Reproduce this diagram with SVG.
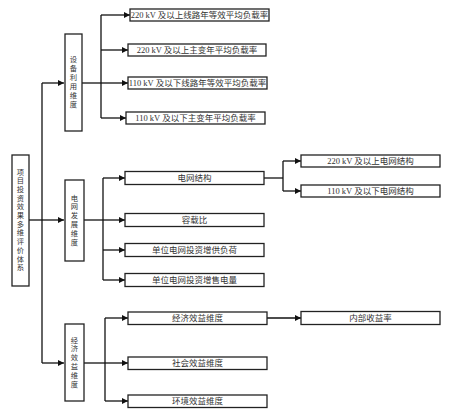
<svg xmlns="http://www.w3.org/2000/svg" width="450" height="414" viewBox="0 0 450 414">
<style>
.box{fill:#fff;stroke:#222;stroke-width:1.3}
.ln{fill:none;stroke:#111;stroke-width:1.3}
.t{font-family:"Liberation Serif","Noto Sans CJK SC",serif;font-size:8.5px;fill:#333;text-anchor:middle;dominant-baseline:central}
.v{font-size:7.3px}
</style>
<defs>
<marker id="ah" viewBox="0 0 10 10" refX="10" refY="5" markerWidth="6" markerHeight="6" markerUnits="userSpaceOnUse" orient="auto">
<path d="M0,0 L10,5 L0,10 z" fill="#111"/>
</marker>
</defs>
<rect width="450" height="414" fill="#fff"/>
<g id="connectors">
<path class="ln" d="M29,220 H42"/>
<path class="ln" d="M42,83 V363"/>
<path class="ln" d="M42,83 H64" marker-end="url(#ah)"/>
<path class="ln" d="M42,220 H64" marker-end="url(#ah)"/>
<path class="ln" d="M42,363 H64" marker-end="url(#ah)"/>
<path class="ln" d="M82,83 H101"/>
<path class="ln" d="M101,15 V118"/>
<path class="ln" d="M101,15 H130" marker-end="url(#ah)"/>
<path class="ln" d="M101,50 H128" marker-end="url(#ah)"/>
<path class="ln" d="M101,83 H128" marker-end="url(#ah)"/>
<path class="ln" d="M101,118 H126" marker-end="url(#ah)"/>
<path class="ln" d="M84,220 H103"/>
<path class="ln" d="M103,178 V280"/>
<path class="ln" d="M103,178 H125" marker-end="url(#ah)"/>
<path class="ln" d="M103,220 H125" marker-end="url(#ah)"/>
<path class="ln" d="M103,250 H125" marker-end="url(#ah)"/>
<path class="ln" d="M103,280 H125" marker-end="url(#ah)"/>
<path class="ln" d="M264,178 H283"/>
<path class="ln" d="M283,161 V191"/>
<path class="ln" d="M283,161 H301" marker-end="url(#ah)"/>
<path class="ln" d="M283,191 H301" marker-end="url(#ah)"/>
<path class="ln" d="M84,363 H105"/>
<path class="ln" d="M105,318 V401"/>
<path class="ln" d="M105,318 H128" marker-end="url(#ah)"/>
<path class="ln" d="M105,363 H128" marker-end="url(#ah)"/>
<path class="ln" d="M105,401 H128" marker-end="url(#ah)"/>
<path class="ln" d="M267,318 H301" marker-end="url(#ah)"/>
</g>
<g id="root">
<rect class="box" x="12" y="155" width="17" height="131"/>
<text class="t v" x="20.5 20.5 20.5 20.5 20.5 20.5 20.5 20.5 20.5 20.5 20.5 20.5" y="172 180.7 189.4 198.1 206.8 215.5 224.2 232.9 241.6 250.3 259 267.7">项目投资效果多维评价体系</text>
</g>
<g id="dim1">
<rect class="box" x="65" y="34" width="17" height="97"/>
<text class="t v" x="73.5 73.5 73.5 73.5 73.5 73.5" y="59 68 77 86 95 104">设备利用维度</text>
</g>
<g id="dim2">
<rect class="box" x="65" y="180" width="19" height="81"/>
<text class="t v" x="74.5 74.5 74.5 74.5 74.5 74.5" y="198 206.8 215.6 224.4 233.2 242">电网发展维度</text>
</g>
<g id="dim3">
<rect class="box" x="65" y="324" width="19" height="77"/>
<text class="t v" x="74.5 74.5 74.5 74.5 74.5 74.5" y="340 348.8 357.6 366.4 375.2 384">经济效益维度</text>
</g>
<g id="n11">
<rect class="box" x="130" y="9" width="139" height="12"/>
<text class="t" x="199.5" y="15">220 kV 及以上线路年等效平均负载率</text>
</g>
<g id="n12">
<rect class="box" x="128" y="44" width="138" height="12"/>
<text class="t" x="197" y="50">220 kV 及以上主变年平均负载率</text>
</g>
<g id="n13">
<rect class="box" x="128" y="77" width="139" height="12"/>
<text class="t" x="197.5" y="83">110 kV 及以下线路年等效平均负载率</text>
</g>
<g id="n14">
<rect class="box" x="126" y="112" width="139" height="12"/>
<text class="t" x="195.5" y="118">110 kV 及以下主变年平均负载率</text>
</g>
<g id="n21">
<rect class="box" x="125" y="171.5" width="139" height="13"/>
<text class="t" x="194.5" y="178">电网结构</text>
</g>
<g id="n22">
<rect class="box" x="125" y="213.5" width="139" height="13"/>
<text class="t" x="194.5" y="220">容载比</text>
</g>
<g id="n23">
<rect class="box" x="125" y="243.5" width="139" height="13"/>
<text class="t" x="194.5" y="250">单位电网投资增供负荷</text>
</g>
<g id="n24">
<rect class="box" x="125" y="273.5" width="139" height="13"/>
<text class="t" x="194.5" y="280">单位电网投资增售电量</text>
</g>
<g id="n211">
<rect class="box" x="301" y="155" width="139" height="12"/>
<text class="t" x="370.5" y="161">220 kV 及以上电网结构</text>
</g>
<g id="n212">
<rect class="box" x="301" y="185" width="139" height="12"/>
<text class="t" x="370.5" y="191">110 kV 及以下电网结构</text>
</g>
<g id="n31">
<rect class="box" x="128" y="312" width="139" height="12.5"/>
<text class="t" x="197.5" y="318">经济效益维度</text>
</g>
<g id="n32">
<rect class="box" x="128" y="357" width="139" height="12.5"/>
<text class="t" x="197.5" y="363">社会效益维度</text>
</g>
<g id="n33">
<rect class="box" x="128" y="395" width="139" height="12.5"/>
<text class="t" x="197.5" y="401">环境效益维度</text>
</g>
<g id="n311">
<rect class="box" x="301" y="311.5" width="139" height="13"/>
<text class="t" x="370.5" y="318">内部收益率</text>
</g>
</svg>
